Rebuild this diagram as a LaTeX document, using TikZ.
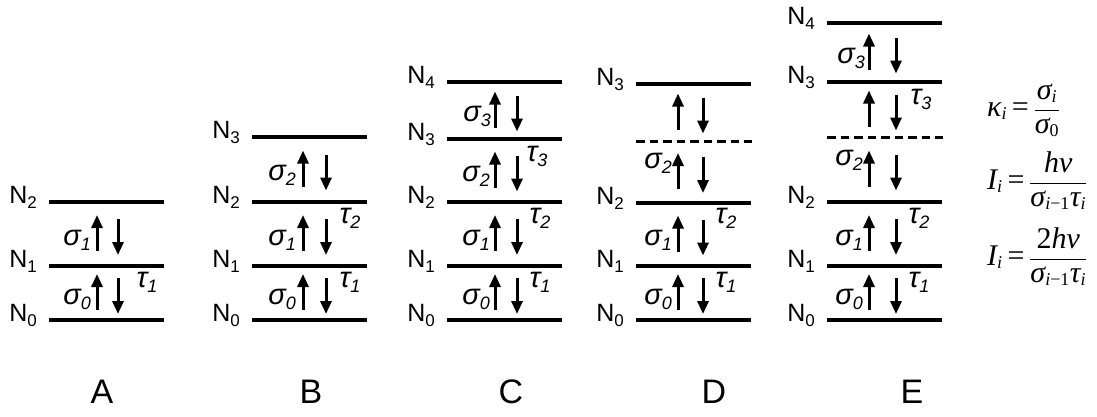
\documentclass[tikz,border=0pt]{standalone}
\usepackage{fontspec}
\setmainfont{Liberation Sans}
\newfontfamily\tms{Liberation Serif}
\usetikzlibrary{arrows.meta}

\newcommand\Nl[1]{N\raisebox{-5pt}{\fontsize{17}{17}\selectfont #1}}
\newcommand\gk[2]{{\fontsize{29}{29}\selectfont\itshape #1}\raisebox{-5pt}{\fontsize{18}{18}\selectfont\itshape #2}}
\newcommand\ti[1]{\hbox{\tms\itshape #1}}
\newcommand\tsb[1]{\hbox{\tms\fontsize{18}{18}\selectfont #1}}
\newcommand\eqs{\mathrel{\hbox{\tms =}}}

% level line with N label: x-left, y, index, name
\newcommand\lev[4]{%
  \draw[levline] (#1,#2) -- ({#1+115},#2);
  \node[nlab] (#4) at ({#1-12},{#2+1}) {\Nl{#3}};}
% pair of arrows: up-x, down-x, y-lower, y-upper, name
\newcommand\arrs[5]{%
  \pgfmathsetmacro\cc{(#3+#4)/2}
  \coordinate (#5u1) at (#1,{\cc+17});
  \coordinate (#5u2) at (#1,{\cc-19});
  \coordinate (#5d1) at (#2,{\cc-15});
  \coordinate (#5d2) at (#2,{\cc+21});
  \draw[arr] (#5u1) -- (#5u2);
  \draw[arr] (#5d1) -- (#5d2);}

\begin{document}
\begin{tikzpicture}[x=1pt,y=-1pt,
  levline/.style={line width=4pt},
  dashline/.style={line width=3pt, dash pattern=on 8.5pt off 5pt},
  arr/.style={line width=3pt,-{Triangle[length=13pt,width=11pt]}},
  nlab/.style={anchor=base east, inner sep=0pt, font=\fontsize{25}{25}\selectfont},
  slab/.style={anchor=east, inner sep=0pt},
  tlab/.style={inner sep=0pt},
  biglab/.style={font=\fontsize{34}{34}\selectfont, inner sep=0pt},
  frm/.style={anchor=base west, inner sep=0pt, font=\fontsize{30}{34}\selectfont}]
\fill[white] (0,0) rectangle (1097,416);
\useasboundingbox (0,0) rectangle (1097,416);

% ---------- A ----------
\lev{49}{320}{0}{A0}
\lev{49}{266}{1}{A1}
\lev{49}{202}{2}{A2}
\arrs{97}{118}{320}{266}{Aa}
\arrs{97}{118}{266}{202}{Ab}
\node[slab] (As0) at (91,299) {\gk{σ}{0}};
\node[slab] (As1) at (91,240) {\gk{σ}{1}};
\node[tlab] (At1) at (147,282) {\gk{τ}{1}};
\node[biglab] (LA) at (102,392) {A};

% ---------- B ----------
\lev{252}{320}{0}{B0}
\lev{252}{266}{1}{B1}
\lev{252}{202}{2}{B2}
\lev{252}{137}{3}{B3}
\arrs{303}{326}{320}{266}{Ba}
\arrs{303}{326}{266}{202}{Bb}
\arrs{303}{326}{202}{137}{Bc}
\node[slab] (Bs0) at (296,299) {\gk{σ}{0}};
\node[slab] (Bs1) at (296,240) {\gk{σ}{1}};
\node[slab] (Bs2) at (296,175.5) {\gk{σ}{2}};
\node[tlab] (Bt1) at (350,282) {\gk{τ}{1}};
\node[tlab] (Bt2) at (350,218) {\gk{τ}{2}};
\node[biglab] (LB) at (311,392) {B};

% ---------- C ----------
\lev{447}{320}{0}{C0}
\lev{447}{266}{1}{C1}
\lev{447}{202}{2}{C2}
\lev{447}{139}{3}{C3}
\lev{447}{82}{4}{C4}
\arrs{495}{517}{320}{266}{Ca}
\arrs{495}{517}{266}{202}{Cb}
\arrs{495}{517}{202}{139}{Cc}
\arrs{495}{517}{139}{82}{Cd}
\node[slab] (Cs0) at (490,299) {\gk{σ}{0}};
\node[slab] (Cs1) at (490,240) {\gk{σ}{1}};
\node[slab] (Cs2) at (490,176.5) {\gk{σ}{2}};
\node[slab] (Cs3) at (491,116.5) {\gk{σ}{3}};
\node[tlab] (Ct1) at (540,282) {\gk{τ}{1}};
\node[tlab] (Ct2) at (540,218) {\gk{τ}{2}};
\node[tlab] (Ct3) at (537,156) {\gk{τ}{3}};
\node[biglab] (LC) at (511,392) {C};

% ---------- D ----------
\lev{636}{320}{0}{D0}
\lev{636}{266}{1}{D1}
\lev{636}{203}{2}{D2}
\draw[dashline] (636,141) -- (752,141);
\lev{636}{84}{3}{D3}
\arrs{678}{703}{320}{266}{Da}
\arrs{678}{703}{266}{203}{Db}
\arrs{678}{703}{203}{141}{Dc}
\arrs{678}{703}{141}{84}{Dd}
\node[slab] (Ds0) at (672,299) {\gk{σ}{0}};
\node[slab] (Ds1) at (672,240) {\gk{σ}{1}};
\node[slab] (Ds2) at (672,163) {\gk{σ}{2}};
\node[tlab] (Dt1) at (726,282) {\gk{τ}{1}};
\node[tlab] (Dt2) at (726,218) {\gk{τ}{2}};
\node[biglab] (LD) at (714,392) {D};

% ---------- E ----------
\lev{827}{320}{0}{E0}
\lev{827}{266}{1}{E1}
\lev{827}{202}{2}{E2}
\draw[dashline] (827,137) -- (943,137);
\lev{827}{82}{3}{E3}
\lev{827}{23}{4}{E4}
\arrs{869}{896}{320}{266}{Ea}
\arrs{869}{896}{266}{202}{Eb}
\arrs{869}{896}{202}{137}{Ec}
\arrs{869}{896}{137}{82}{Ed}
\arrs{869}{896}{82}{23}{Ee}
\node[slab] (Es0) at (863,299) {\gk{σ}{0}};
\node[slab] (Es1) at (863,240) {\gk{σ}{1}};
\node[slab] (Es2) at (863,160.5) {\gk{σ}{2}};
\node[slab] (Es3) at (865,58.5) {\gk{σ}{3}};
\node[tlab] (Et1) at (919,282) {\gk{τ}{1}};
\node[tlab] (Et2) at (919,218) {\gk{τ}{2}};
\node[tlab] (Et3) at (921,99) {\gk{τ}{3}};
\node[biglab] (LE) at (912,392) {E};

% ---------- formulas ----------
\node[frm] (F1) at (987,116) {\thickmuskip=3.5mu\thinmuskip=1mu$\displaystyle \ti{κ}_{\tsb{\itshape i}}\eqs\frac{\ti{σ}_{\tsb{\itshape i}}}{\ti{σ}_{\tsb{0}}}$};
\node[frm] (F2) at (987,189) {\thickmuskip=3.5mu\thinmuskip=1mu$\displaystyle \ti{I}_{\tsb{\itshape i}}\eqs\frac{\ti{hν}}{\ti{σ}_{\tsb{\itshape i\upshape −1}}\ti{τ}_{\tsb{\itshape i}}}$};
\node[frm] (F3) at (987,265) {\thickmuskip=3.5mu\thinmuskip=1mu$\displaystyle \ti{I}_{\tsb{\itshape i}}\eqs\frac{\ti{\upshape 2\itshape hν}}{\ti{σ}_{\tsb{\itshape i\upshape −1}}\ti{τ}_{\tsb{\itshape i}}}$};
\end{tikzpicture}
\end{document}
